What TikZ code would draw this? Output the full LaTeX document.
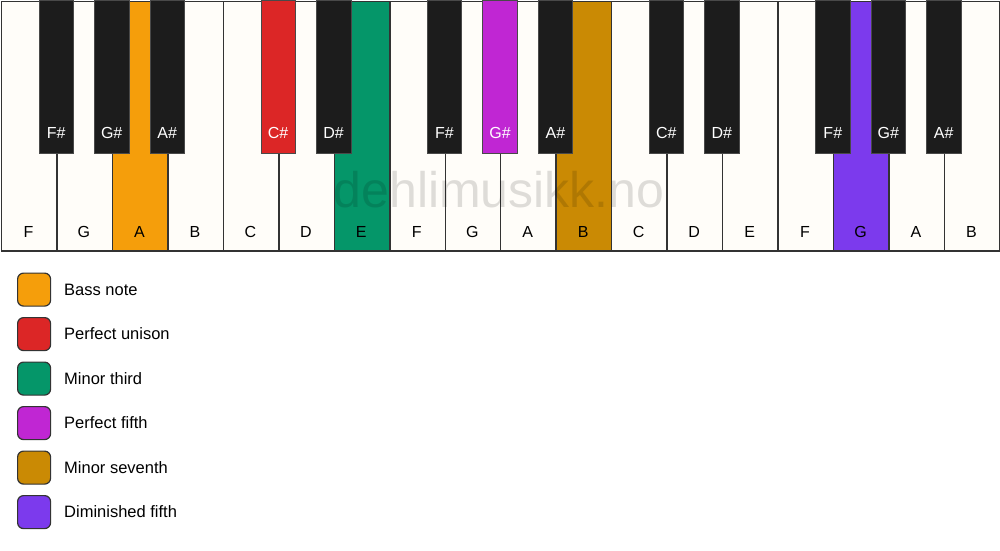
\documentclass[tikz,border=0pt]{standalone}
\usepackage{fontspec}
\setmainfont{Liberation Sans}
\definecolor{keyw}{HTML}{FFFDF9}
\definecolor{keyb}{HTML}{1C1C1C}
\definecolor{edge}{HTML}{333333}
\definecolor{cbass}{HTML}{F59E0B}
\definecolor{cunis}{HTML}{DC2626}
\definecolor{cthird}{HTML}{059669}
\definecolor{cfifth}{HTML}{C026D3}
\definecolor{cseventh}{HTML}{CA8A04}
\definecolor{cdim}{HTML}{7C3AED}
\tikzset{
  whitekey/.style={draw=edge, line width=1.5pt, rectangle, inner sep=0pt, minimum width=55.47pt, minimum height=249pt, anchor=north west},
  blackkey/.style={draw=keyb!80!white, line width=0.6pt, rectangle, inner sep=0pt, minimum width=34.5pt, minimum height=153pt, anchor=north},
  keylabel/.style={font=\fontsize{16}{19}\selectfont, anchor=base, inner sep=0pt},
  legbox/.style={draw=edge, line width=1.2pt, rounded corners=6pt, rectangle, inner sep=0pt, minimum size=33pt, anchor=north west},
  legtext/.style={font=\fontsize{16.5}{19}\selectfont, anchor=west, inner sep=0pt},
  wmark/.style={font=\fontsize{50}{56}\selectfont, text=black, text opacity=0.13, anchor=base, inner sep=0pt}
}
\begin{document}
\begin{tikzpicture}[x=1pt,y=-1pt]
\useasboundingbox[fill=white] (0,0) rectangle (1000,550);
% white keys
\foreach \i/\n/\c in {0/F/keyw,1/G/keyw,2/A/cbass,3/B/keyw,4/C/keyw,5/D/keyw,6/E/cthird,7/F/keyw,8/G/keyw,9/A/keyw,10/B/cseventh,11/C/keyw,12/D/keyw,13/E/keyw,14/F/keyw,15/G/cdim,16/A/keyw,17/B/keyw}{
  \node[whitekey, fill=\c] (w\i) at ({0.75+\i*55.47},0.5) {};
  \node[keylabel] (wl\i) at ({0.75+(\i+0.5)*55.47},237) {\n};
}
\draw[edge, line width=2pt] (w0.south west) -- (w17.south east);
% watermark
\node[wmark] (wm) at (499,207) {dehlimusikk.no};
% black keys
\foreach \b/\n/\c/\t in {1/F\#/keyb/white,2/G\#/keyb/white,3/A\#/keyb/white,5/C\#/cunis/white,6/D\#/keyb/white,8/F\#/keyb/white,9/G\#/cfifth/white,10/A\#/keyb/white,12/C\#/keyb/white,13/D\#/keyb/white,15/F\#/keyb/white,16/G\#/keyb/white,17/A\#/keyb/white}{
  \node[blackkey, fill=\c] (b\b) at ({0.75+\b*55.47},0) {};
  \node[keylabel, text=\t] (bl\b) at ({0.75+\b*55.47},138.5) {\n};
}
% legend
\foreach \k/\c/\t in {0/cbass/Bass note,1/cunis/Perfect unison,2/cthird/Minor third,3/cfifth/Perfect fifth,4/cseventh/Minor seventh,5/cdim/Diminished fifth}{
  \node[legbox, fill=\c] (lb\k) at (17,{272.5+\k*44.5}) {};
  \node[legtext] (lt\k) at ({64},{289.5+\k*44.5}) {\t};
}
\end{tikzpicture}
\end{document}
